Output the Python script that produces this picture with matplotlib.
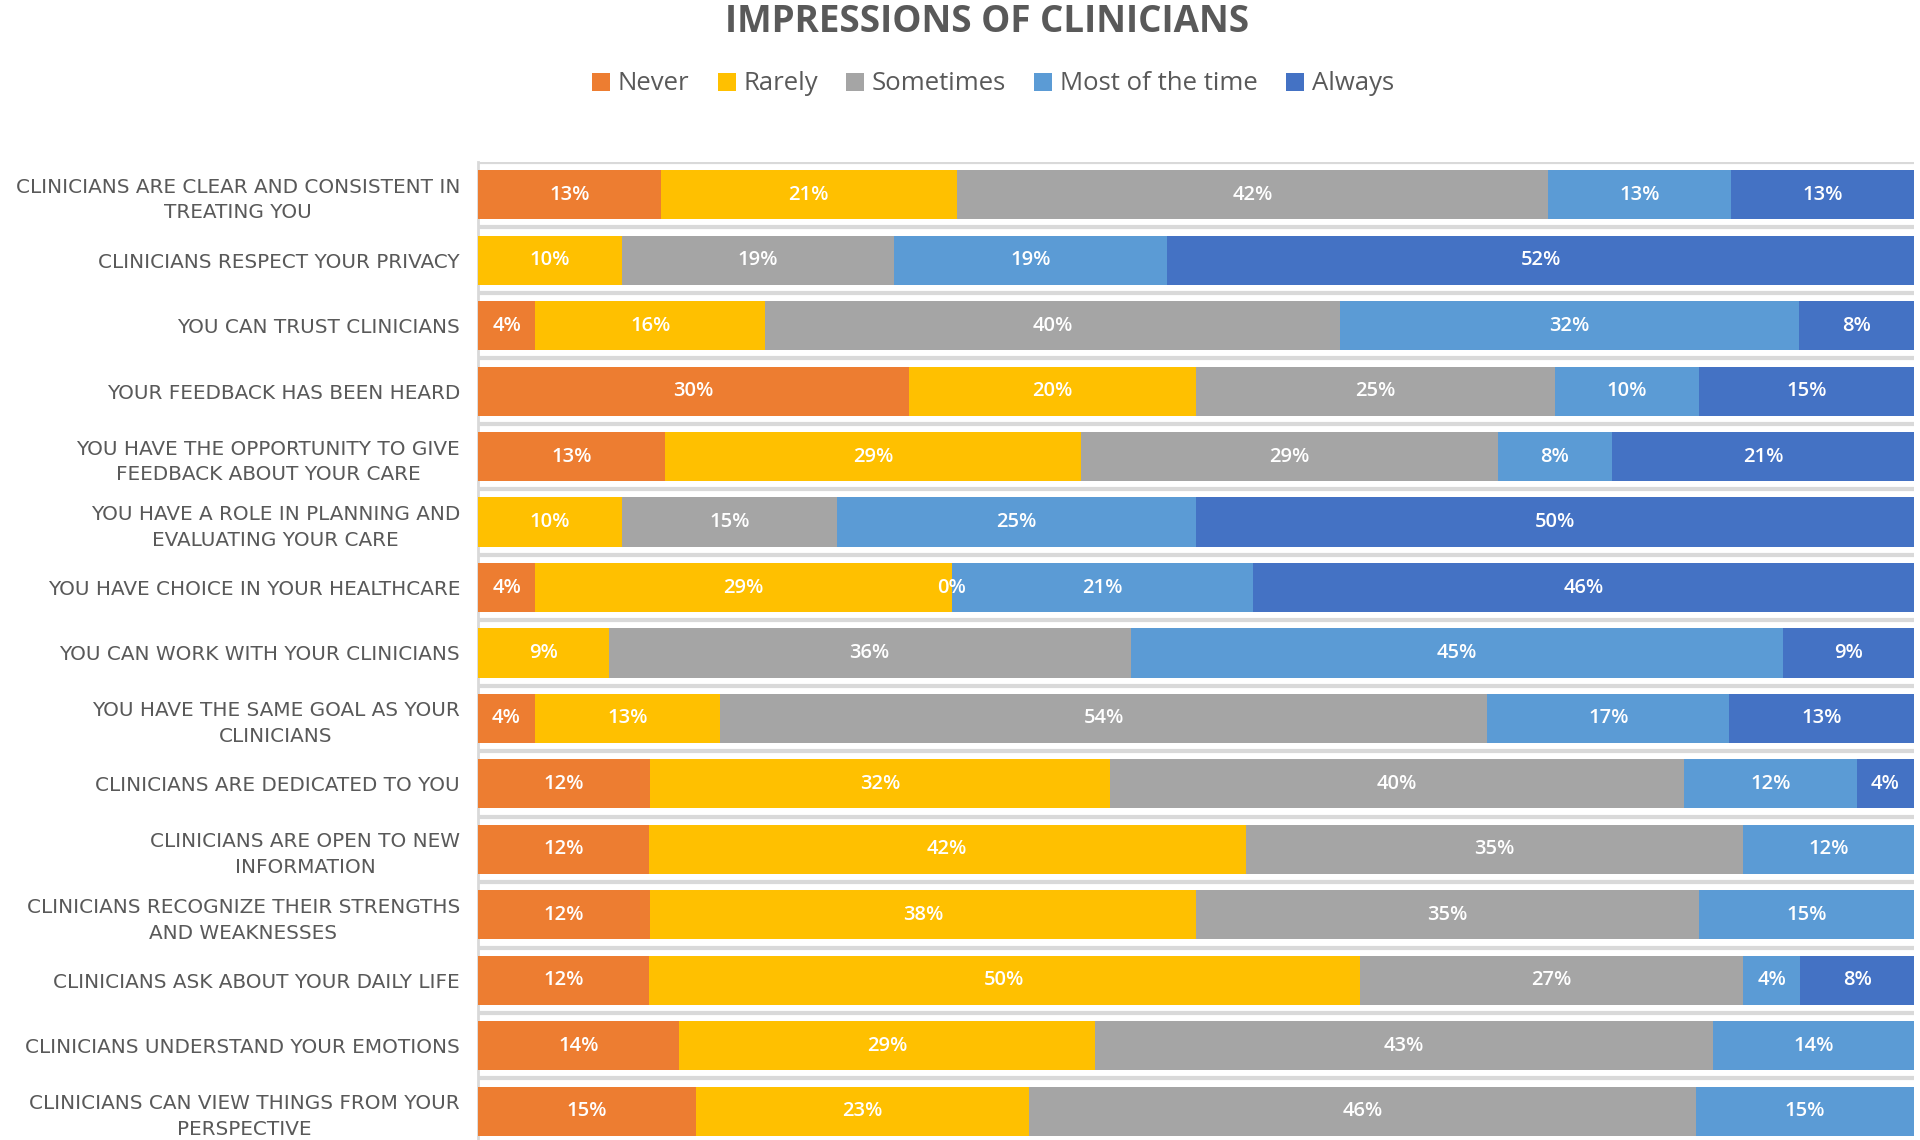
import numpy as np
import matplotlib
matplotlib.use("Agg")
import matplotlib.pyplot as plt

# survey items, top to bottom as in the chart
items = [
    "CLINICIANS ARE CLEAR AND CONSISTENT IN\nTREATING YOU",
    "CLINICIANS RESPECT YOUR PRIVACY",
    "YOU CAN TRUST CLINICIANS",
    "YOUR FEEDBACK HAS BEEN HEARD",
    "YOU HAVE THE OPPORTUNITY TO GIVE\nFEEDBACK ABOUT YOUR CARE",
    "YOU HAVE A ROLE IN PLANNING AND\nEVALUATING YOUR CARE",
    "YOU HAVE CHOICE IN YOUR HEALTHCARE",
    "YOU CAN WORK WITH YOUR CLINICIANS",
    "YOU HAVE THE SAME GOAL AS YOUR\nCLINICIANS",
    "CLINICIANS ARE DEDICATED TO YOU",
    "CLINICIANS ARE OPEN TO NEW\nINFORMATION",
    "CLINICIANS RECOGNIZE THEIR STRENGTHS\nAND WEAKNESSES",
    "CLINICIANS ASK ABOUT YOUR DAILY LIFE",
    "CLINICIANS UNDERSTAND YOUR EMOTIONS",
    "CLINICIANS CAN VIEW THINGS FROM YOUR\nPERSPECTIVE",
]

# percentages per response (None = no answer in that category)
never     = [13, None, 4, 30, 13, None, 4, None, 4, 12, 12, 12, 12, 14, 15]
rarely    = [21, 10, 16, 20, 29, 10, 29, 9, 13, 32, 42, 38, 50, 29, 23]
sometimes = [42, 19, 40, 25, 29, 15, 0, 36, 54, 40, 35, 35, 27, 43, 46]
most      = [13, 19, 32, 10, 8, 25, 21, 45, 17, 12, 12, 15, 4, 14, 15]
always    = [13, 52, 8, 15, 21, 50, 46, 9, 13, 4, None, None, 8, None, None]

responses = ["Never", "Rarely", "Sometimes", "Most of the time", "Always"]
colors = ["#ED7D31", "#FFC000", "#A5A5A5", "#5B9BD5", "#4472C4"]

series = [never, rarely, sometimes, most, always]
vals = np.array([[np.nan if v is None else v for v in s] for s in series], dtype=float)
totals = np.nansum(vals, axis=0)
shares = np.nan_to_num(vals) / totals  # 100% stacked

fig = plt.figure(figsize=(19.2, 11.4), dpi=100)
ax = fig.add_axes([478 / 1920, 0.0, (1914 - 478) / 1920, 1 - 162 / 1140])

y = np.arange(len(items))
left = np.zeros(len(items))
for k in range(len(responses)):
    ax.barh(y, shares[k], left=left, height=0.75, color=colors[k],
            label=responses[k], zorder=3)
    for i in range(len(items)):
        if not np.isnan(vals[k, i]):
            ax.text(left[i] + shares[k, i] / 2, y[i], f"{int(vals[k, i])}%",
                    ha="center", va="center", color="white", fontsize=14.5,
                    family="Open Sans", fontweight="semibold", zorder=4)
    left += shares[k]

# gridlines between categories
for b in np.arange(-0.5, len(items), 1.0):
    ax.axhline(b, color="#D9D9D9", lw=3, zorder=1)

ax.set_xlim(0, 1)
ax.set_ylim(14.44, -0.5)
ax.set_xticks([])
ax.set_yticks(y)
ax.set_yticklabels(items, fontsize=14.4, color="#595959", family="DejaVu Sans",
                   multialignment="center", linespacing=1.45)
ax.tick_params(axis="y", length=0, pad=13)
for side in ["top", "right", "bottom"]:
    ax.spines[side].set_visible(False)
ax.spines["left"].set_color("#D9D9D9")
ax.spines["left"].set_linewidth(2)

fig.text(987 / 1920, 1 - 22 / 1140, "IMPRESSIONS OF CLINICIANS", ha="center",
         va="center", fontsize=26.5, fontweight="bold", color="#595959",
         family="Open Sans")

fig.legend(loc="center", bbox_to_anchor=(993 / 1920, 1 - 84 / 1140), ncol=5,
           frameon=False, labelcolor="#595959", handlelength=0.7,
           handleheight=0.7, handletextpad=0.3, columnspacing=1.1,
           prop={"family": "Open Sans", "size": 18.5})

fig.savefig("out.png", dpi=100, facecolor="white")
